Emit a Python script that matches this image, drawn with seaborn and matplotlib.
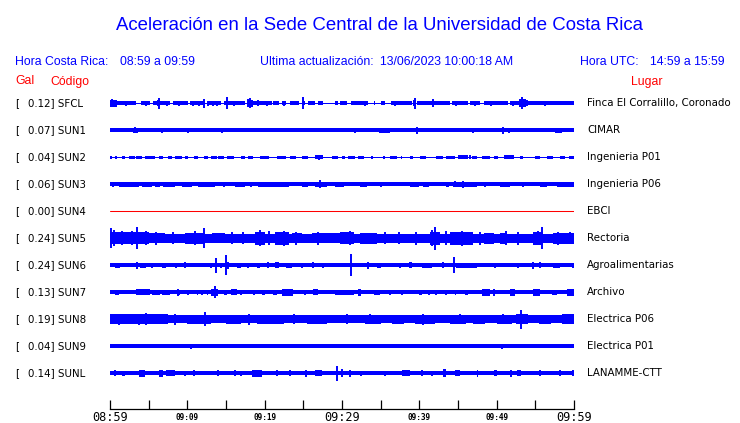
import matplotlib
matplotlib.use("Agg")
import matplotlib.pyplot as plt
import matplotlib.transforms as mtransforms
import seaborn as sns
import pandas as pd

# ---- data (minutes after 08:59, half height in pixels) ----
STATIONS = ["SFCL", "SUN1", "SUN2", "SUN3", "SUN4", "SUN5", "SUN6", "SUN7", "SUN8", "SUN9", "SUNL"]
GAL = [0.12, 0.07, 0.04, 0.06, 0.00, 0.24, 0.24, 0.13, 0.19, 0.04, 0.14]
PLACES = ["Finca El Corralillo, Coronado", "CIMAR", "Ingenieria P01", "Ingenieria P06", "EBCI",
          "Rectoria", "Agroalimentarias", "Archivo", "Electrica P06", "Electrica P01", "LANAMME-CTT"]
BASE_PX = [0.7, 1.9, 0.7, 1.8, 0.0, 4.4, 2.0, 2.0, 4.0, 1.9, 2.1]

TICK_MIN = [0, 5, 10, 15, 20, 25, 30, 35, 40, 45, 50, 55, 60]
TICK_LABELS = ["08:59", "", "09:09", "", "09:19", "", "09:29", "", "09:39", "", "09:49", "", "09:59"]

# blocks: (start, end, half_px)   spikes: (minute, half_px)
SFCL_BLOCKS = [(0, 3.4, 1.8), (4.0, 5.2, 1.8), (5.6, 7.8, 1.8), (8.2, 10.1, 1.8), (10.3, 12.3, 1.8),
               (12.7, 14.4, 1.8), (14.7, 17.5, 1.8), (17.9, 20.9, 1.8), (21.1, 21.8, 1.8), (22.2, 22.8, 1.8),
               (23.3, 24.4, 1.8), (24.8, 25.2, 1.8), (25.6, 26.5, 1.8), (26.9, 27.6, 1.8), (29.1, 29.5, 1.8),
               (29.7, 30.6, 1.8), (31.2, 33.4, 1.8), (34.1, 34.3, 1.8), (35.1, 35.6, 1.8), (36.4, 39.0, 1.8),
               (39.7, 44.0, 1.8), (44.2, 46.3, 1.8), (46.6, 47.8, 1.8), (48.3, 51.5, 1.8), (51.7, 60, 1.8),
               (0, 0.9, 3.5), (17.8, 18.5, 3.5), (52.9, 53.8, 4), (39.2, 39.6, 3), (6.1, 6.5, 3)]
SFCL_SPIKES = [(0.2, 4), (0.6, 3.5), (6.3, 5.5), (7.4, 2.5), (10.7, 2.5), (12.2, 4.5), (12.7, 2.5),
               (13.3, 2.5), (13.9, 2.5), (15.1, 6), (17.9, 4), (18.1, 5), (18.4, 3.5), (19.1, 3),
               (25.0, 6), (39.4, 5.5), (41.8, 4), (52.1, 2.5), (53.0, 4), (53.3, 6), (53.6, 4), (53.9, 3),
               (2.1, 2.6), (4.6, 2.6), (8.9, 2.6), (11.5, 2.6), (16.0, 2.6), (20.3, 2.6), (22.5, 2.6),
               (33.0, 2.4), (36.9, 2.4), (44.8, 2.4), (47.2, 2.4), (49.3, 2.4), (56.2, 2.4)]

SUN1_BLOCKS = [(57.5, 58.5, 2.5), (3.0, 3.6, 2.4), (34.8, 36.2, 2.3)]
SUN1_SPIKES = [(3.2, 2.8), (10.1, 2.5), (23.4, 2.2), (26.1, 2.2), (35.9, 2.5), (39.7, 3.7),
               (50.8, 3.3), (51.6, 2.5), (57.9, 2.5), (6.7, 2.3), (14.5, 2.3), (31.7, 2.3), (46.9, 2.3)]

SUN2_BLOCKS = [(0, 0.2, 1.7), (0.6, 0.9, 1.7), (1.5, 1.9, 1.7), (2.4, 3.2, 1.7), (3.4, 4.1, 1.7),
               (4.5, 5.8, 1.7), (6.3, 6.9, 1.7), (7.5, 8.0, 1.7), (8.4, 9.3, 1.7), (9.7, 10.1, 1.7),
               (10.8, 11.4, 1.7), (12.1, 12.7, 1.7), (13.1, 13.8, 1.7), (14.0, 14.7, 1.7), (15.1, 16.0, 1.7),
               (17.0, 17.5, 1.7), (17.9, 18.5, 1.7), (19.4, 20.5, 1.7), (21.6, 22.8, 1.7), (23.3, 24.1, 1.7),
               (24.8, 25.6, 1.7), (26.5, 27.6, 2.1), (28.7, 29.5, 1.7), (30.0, 30.4, 1.7), (30.8, 31.7, 1.7),
               (32.1, 32.8, 1.7), (33.8, 34.0, 1.7), (35.3, 35.5, 1.7), (36.2, 37.1, 1.7), (37.6, 37.8, 1.7),
               (38.8, 39.2, 1.7), (40.1, 40.9, 1.7), (42.2, 43.1, 1.7), (43.5, 44.6, 1.7), (45.0, 46.3, 2.1),
               (46.8, 47.4, 1.7), (48.1, 49.1, 1.7), (49.6, 50.2, 1.7), (50.9, 52.2, 2.1), (53.0, 53.4, 1.7),
               (55.0, 55.6, 1.7), (56.5, 57.3, 1.7), (58.2, 58.8, 1.7), (59.3, 60, 1.7)]
SUN2_SPIKES = [(27.0, 2.4), (46.5, 2.2)]

SUN3_BLOCKS = [(1.1, 3.7, 2.5), (4.1, 5.4, 2.5), (5.8, 6.5, 2.5), (6.9, 8.4, 2.5), (9.3, 10.6, 2.5),
               (11.4, 13.6, 2.5), (16.2, 17.5, 2.5), (19.2, 23.1, 2.5), (24.8, 25.6, 2.5), (26.5, 28.0, 2.5),
               (29.1, 30.2, 2.5), (32.3, 33.2, 2.5), (38.8, 39.9, 2.5), (40.5, 41.2, 2.5), (43.5, 43.9, 2.5),
               (44.4, 47.4, 2.5), (50.4, 51.7, 2.5), (55.6, 56.5, 2.5), (57.8, 60, 2.5)]
SUN3_SPIKES = [(27.2, 3.8), (44.6, 3.0), (45.6, 3.3), (0.4, 2.6), (14.8, 2.6), (18.2, 2.6),
               (35.0, 2.6), (48.5, 2.6), (53.4, 2.6)]

SUN4_BLOCKS = []
SUN4_SPIKES = []

SUN5_BLOCKS = [(0, 5.0, 6.0), (5.0, 7.1, 5.2), (9.7, 12.3, 5.6), (13.2, 14.9, 5.2), (18.7, 20.0, 6.5),
               (21.3, 23.1, 6.5), (23.5, 24.8, 5.2), (26.1, 30.4, 5.2), (29.7, 31.5, 6.0), (32.3, 34.5, 5.6),
               (41.4, 42.7, 6.5), (44.0, 47.0, 6.5), (48.3, 49.6, 5.6), (50.4, 51.3, 5.6), (54.7, 56.0, 6.5),
               (57.3, 60, 5.6)]
SUN5_SPIKES = [(0.1, 10), (0.5, 8), (2.8, 7), (3.5, 11), (4.6, 7), (11.0, 7), (12.2, 10), (19.4, 8),
               (22.5, 7.5), (24.0, 6.5), (31.0, 7), (41.6, 8), (42.0, 11.5), (45.5, 7.5), (51.2, 7),
               (55.3, 7), (55.8, 10.8), (59.5, 6), (1.6, 7), (6.0, 6.5), (8.1, 6), (15.8, 6), (17.2, 6),
               (20.6, 7), (26.9, 6.5), (35.5, 6), (37.4, 6), (39.6, 6.5), (43.4, 7), (47.8, 6.5),
               (52.7, 6.5), (57.9, 6.5)]

SUN6_BLOCKS = [(0.6, 1.3, 2.7), (3.9, 4.7, 2.7), (6.7, 7.3, 2.5), (16.4, 17.0, 2.7), (19.0, 19.4, 2.7),
               (21.3, 21.8, 3.0), (22.8, 23.5, 2.7), (34.5, 35.0, 2.7), (38.6, 39.0, 3.0), (40.3, 41.6, 2.5),
               (44.8, 47.4, 2.7), (57.3, 58.2, 2.7)]
SUN6_SPIKES = [(3.5, 3.5), (5.4, 2.7), (8.5, 2.7), (9.7, 3.0), (13.1, 2.7), (13.75, 7.5), (14.4, 2.7),
               (15.0, 10), (15.3, 3.5), (17.8, 2.7), (20.4, 3.0), (24.8, 2.4), (26.3, 3.0), (27.6, 2.4),
               (31.1, 11), (33.4, 3.5), (37.5, 2.7), (43.1, 3.0), (44.5, 8), (49.8, 2.5), (52.8, 2.5),
               (54.7, 3.5), (55.6, 3.0), (59.9, 2.7)]

SUN7_BLOCKS = [(0.6, 1.1, 2.7), (3.4, 5.2, 3.0), (5.4, 6.5, 2.7), (6.7, 7.8, 2.7), (8.6, 9.1, 2.7),
               (11.2, 11.4, 2.7), (12.5, 12.7, 2.7), (13.1, 14.0, 3.2), (14.7, 15.1, 2.7), (15.7, 16.4, 3.0),
               (18.5, 18.8, 2.7), (19.6, 20.0, 2.7), (21.1, 21.6, 2.7), (22.2, 23.7, 3.2), (26.3, 26.9, 3.0),
               (29.1, 31.5, 2.8), (32.1, 32.5, 3.5), (34.1, 34.9, 2.7), (39.9, 40.3, 2.7), (44.6, 44.8, 2.7),
               (45.9, 46.3, 2.7), (48.1, 49.1, 3.2), (51.7, 52.4, 3.2), (54.7, 55.6, 3.5), (57.1, 57.8, 2.7),
               (59.1, 60, 3.5)]
SUN7_SPIKES = [(8.8, 3.5), (10.1, 2.7), (11.9, 2.7), (13.6, 6), (17.0, 2.7), (23.1, 3.8), (25.2, 2.7),
               (36.2, 2.7), (37.7, 2.7), (41.2, 2.7), (42.2, 2.7), (43.5, 2.7), (49.6, 3.5)]

SUN8_BLOCKS = [(0, 7.5, 5.0), (10, 13, 4.7), (19, 22.5, 4.7), (33, 35, 4.7), (39.5, 42, 4.8),
               (44, 46, 4.7), (50, 52, 4.8), (52.5, 54, 5.0), (58.5, 60, 5.0), (15.0, 17.0, 4.5),
               (25.5, 28.0, 4.5), (36.5, 38.0, 4.5), (47.0, 48.5, 4.5), (55.5, 57.0, 4.5)]
SUN8_SPIKES = [(3.7, 5.5), (4.7, 6), (12.3, 7), (33.6, 5), (40.5, 5.5), (45.2, 5), (50.8, 5),
               (53.2, 9.3), (59.5, 5), (1.2, 5.5), (8.4, 5.2), (18.0, 5.2), (23.8, 5.0), (30.6, 5.0)]

SUN9_BLOCKS = []
SUN9_SPIKES = [(10.5, 2.5), (50.7, 2.3)]

SUNL_BLOCKS = [(1.5, 1.9, 2.7), (3.7, 4.5, 3.5), (6.3, 6.9, 3.5), (7.3, 8.4, 3.0), (18.3, 19.6, 3.5),
               (26.5, 27.4, 3.0), (37.7, 38.8, 3.0), (43.1, 43.5, 4.0), (44.6, 45.3, 3.0), (47.4, 47.6, 3.5),
               (49.6, 50.0, 3.0), (52.6, 53.2, 3.0)]
SUNL_SPIKES = [(0.6, 3), (9.7, 2.7), (10.8, 3), (14.0, 3), (16.2, 3), (17.0, 2.7), (21.6, 3), (23.3, 3),
               (25.4, 3.5), (29.3, 7.5), (30.0, 4), (31.0, 3.5), (32.5, 2.7), (35.6, 2.7), (40.3, 3),
               (41.6, 2.7), (51.9, 3.5), (55.6, 3), (58.2, 3), (59.9, 3)]

BLOCKS = [SFCL_BLOCKS, SUN1_BLOCKS, SUN2_BLOCKS, SUN3_BLOCKS, SUN4_BLOCKS, SUN5_BLOCKS,
          SUN6_BLOCKS, SUN7_BLOCKS, SUN8_BLOCKS, SUN9_BLOCKS, SUNL_BLOCKS]
SPIKES = [SFCL_SPIKES, SUN1_SPIKES, SUN2_SPIKES, SUN3_SPIKES, SUN4_SPIKES, SUN5_SPIKES,
          SUN6_SPIKES, SUN7_SPIKES, SUN8_SPIKES, SUN9_SPIKES, SUNL_SPIKES]

W, H = 740, 423
ROW_PX = 27.0          # vertical distance between traces
BLUE = "#0000ff"
RED = "#ff0000"

sns.set_theme(style="white")
plt.rcParams["font.family"] = ["DejaVu Sans"]

fig = plt.figure(figsize=(W / 100, H / 100), dpi=100)
fig.patch.set_facecolor("white")
# plot strip: x 110..574 px, y 90..409 px
ax = fig.add_axes([110 / W, (H - 409) / H, 464 / W, 319 / H])
ax.set_xlim(0, 60)
ax.set_ylim(11.32, -0.49)
ax.set_facecolor("white")


def px(v):
    return v / ROW_PX


for i, name in enumerate(STATIONS):
    if name == "SUN4":
        flat = pd.DataFrame({"t": [0, 60], "a": [i, i]})
        sns.lineplot(data=flat, x="t", y="a", color=RED, linewidth=0.75, ax=ax)
        continue
    base = BASE_PX[i]
    ax.fill_between([0, 60], i - px(base), i + px(base), color=BLUE, linewidth=0)
    for s, e, h in BLOCKS[i]:
        ax.fill_between([s, e], i - px(h), i + px(h), color=BLUE, linewidth=0)
    if SPIKES[i]:
        sp = pd.DataFrame(SPIKES[i], columns=["t", "h"])
        ax.vlines(sp["t"], i - px(sp["h"]), i + px(sp["h"]), color=BLUE, linewidth=1.4)

ax.set_xlabel("")
ax.set_ylabel("")
ax.set_yticks([])
for side in ["left", "right", "top"]:
    ax.spines[side].set_visible(False)
ax.spines["bottom"].set_color("black")
ax.spines["bottom"].set_linewidth(0.9)
ax.set_xticks(TICK_MIN)
ax.set_xticklabels(TICK_LABELS)
ax.tick_params(axis="x", direction="in", length=6.5, width=0.9, color="black", pad=6, bottom=True)
for k, lab in enumerate(ax.get_xticklabels()):
    lab.set_family("DejaVu Sans Mono")
    lab.set_va("center")
    lab.set_color("black")
    if TICK_LABELS[k] in ("08:59", "09:29", "09:59"):
        lab.set_fontsize(8.6)
    else:
        lab.set_fontsize(5.6)
        lab.set_fontweight("bold")

# ---- header texts ----
def ftext(x, y, s, **kw):
    fig.text(x / W, 1 - y / H, s, **kw)


hdr = dict(family="Liberation Sans", color=BLUE, fontsize=8.8, va="baseline")
ftext(380, 30, "Aceleración en la Sede Central de la Universidad de Costa Rica",
      family="Liberation Sans", color=BLUE, fontsize=13.4, ha="center", va="baseline")
ftext(15, 65, "Hora Costa Rica:", **hdr)
ftext(120, 65, "08:59 a 09:59", **hdr)
ftext(260, 65, "Ultima actualización:", **hdr)
ftext(380, 65, "13/06/2023 10:00:18 AM", **hdr)
ftext(580.5, 65, "Hora UTC:", **hdr)
ftext(650.5, 65, "14:59 a 15:59", **hdr)
red = dict(family="Liberation Sans", color=RED, fontsize=8.8, va="baseline")
ftext(15, 84.5, "Gal", **red)
ftext(50.5, 84.5, "Código", **red)
ftext(630.5, 84.5, "Lugar", **red)

# ---- row labels ----
trans = mtransforms.blended_transform_factory(fig.transFigure, ax.transData)
lab_kw = dict(family="DejaVu Sans", fontsize=7.4, color="black", va="center", transform=trans)
for i, name in enumerate(STATIONS):
    fig.text(15 / W, i, "[", **lab_kw)
    fig.text(27.7 / W, i, f"{GAL[i]:.2f}] {name}", **lab_kw)
    fig.text(587 / W, i, PLACES[i], **lab_kw)

fig.savefig("out.png", dpi=100, facecolor="white")
